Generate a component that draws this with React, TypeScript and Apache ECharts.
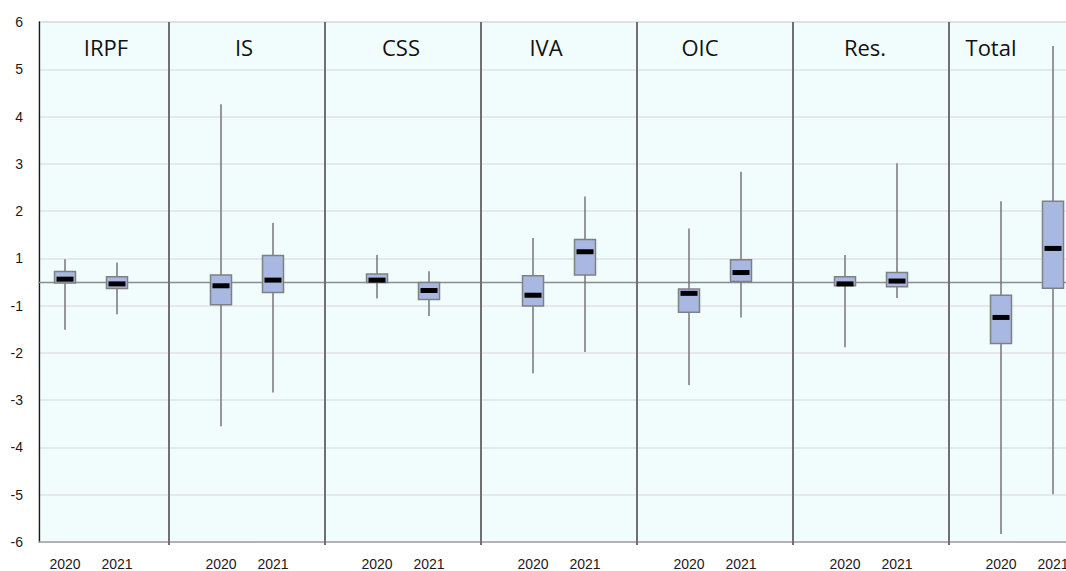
import React, { useEffect, useRef } from "react";
import * as echarts from "echarts";

// Panels and years
const panels = ["IRPF", "IS", "CSS", "IVA", "OIC", "Res.", "Total"];
const years = ["2020", "2021"];

// Y tick labels (as printed on the chart; the centre line carries no label)
const yTickLabels = ["-6", "-5", "-4", "-3", "-2", "-1", "1", "2", "3", "4", "5", "6"];

// 2020 box statistics (in gridline units, centre line = 0)
const max2020 = [0.48, 3.76, 0.57, 0.93, 1.13, 0.57, 1.71];
const q3_2020 = [0.22, 0.15, 0.17, 0.13, -0.15, 0.11, -0.28];
const med2020 = [0.06, -0.08, 0.04, -0.28, -0.24, -0.04, -0.75];
const q1_2020 = [-0.02, -0.48, -0.01, -0.51, -0.64, -0.08, -1.3];
const min2020 = [-1.01, -3.05, -0.35, -1.93, -2.18, -1.38, -5.33];

// 2021 box statistics
const max2021 = [0.41, 1.25, 0.23, 1.81, 2.33, 2.51, 4.99];
const q3_2021 = [0.11, 0.56, -0.01, 0.9, 0.47, 0.2, 1.71];
const med2021 = [-0.04, 0.04, -0.18, 0.64, 0.2, 0.02, 0.71];
const q1_2021 = [-0.14, -0.22, -0.37, 0.15, 0.01, -0.1, -0.13];
const min2021 = [-0.68, -2.34, -0.72, -1.48, -0.75, -0.34, -4.49];

// layout of panel titles (pixels)
const titleX = [106, 244, 401, 546, 700, 865, 991];

export default function App() {
  const ref = useRef<HTMLDivElement>(null);
  useEffect(() => {
    if (!ref.current) return;
    const chart = echarts.init(ref.current, null, { renderer: "svg" });

    const categories: string[] = [];
    panels.forEach((p) => {
      years.forEach((y) => categories.push(`${p}|${y}`));
      categories.push(`${p}|`);
    });

    const stats = [
      [min2020, q1_2020, med2020, q3_2020, max2020],
      [min2021, q1_2021, med2021, q3_2021, max2021],
    ];
    const boxData: any[] = [];
    panels.forEach((p, i) => {
      years.forEach((y, j) => {
        const s = stats[j];
        boxData.push([`${p}|${y}`, s[0][i], s[1][i], s[2][i], s[3][i], s[4][i]]);
      });
    });

    const labelFont = "Liberation Sans";

    chart.setOption({
      animation: false,
      backgroundColor: "#ffffff",
      grid: {
        left: 39,
        right: 9,
        top: 22,
        bottom: 29,
        show: true,
        backgroundColor: "#F1FDFD",
        borderColor: "#d4d4d4",
        borderWidth: 1.5,
      },
      xAxis: [
        {
          type: "category",
          data: categories,
          boundaryGap: true,
          axisLine: { onZero: false, lineStyle: { color: "#a3a3a3", width: 1.5 } },
          axisTick: {
            show: true,
            alignWithLabel: true,
            interval: (i: number) => i % 3 === 2,
            length: 3,
            lineStyle: { color: "#707070", width: 2 },
          },
          axisLabel: {
            interval: 0,
            formatter: (v: string) => v.split("|")[1] || "",
            fontFamily: labelFont,
            fontSize: 14,
            color: "#1a1a1a",
            margin: 15,
          },
          splitLine: { show: false },
        },
        {
          type: "category",
          data: categories,
          axisLine: { show: true, onZero: true, lineStyle: { color: "#8c8c8c", width: 1.3 } },
          axisTick: { show: false },
          axisLabel: { show: false },
          splitLine: { show: false },
        },
      ],
      yAxis: {
        type: "value",
        min: -5.5,
        max: 5.5,
        interval: 1,
        axisLine: { show: true, lineStyle: { color: "#1a1a1a", width: 1.3 } },
        axisTick: { show: false },
        axisLabel: {
          formatter: (v: number) => yTickLabels[Math.round(v + 5.5)] ?? "",
          fontFamily: labelFont,
          fontSize: 14,
          color: "#1a1a1a",
          margin: 16,
        },
        splitLine: { lineStyle: { color: "#e2e2e2", width: 1.5 } },
      },
      series: [
        {
          type: "custom",
          xAxisIndex: 0,
          yAxisIndex: 0,
          data: boxData,
          encode: { x: 0, y: [1, 2, 3, 4, 5] },
          renderItem: (params: any, api: any) => {
            const xi = api.value(0);
            const pLo = api.coord([xi, api.value(1)]);
            const pQ1 = api.coord([xi, api.value(2)]);
            const pMed = api.coord([xi, api.value(3)]);
            const pQ3 = api.coord([xi, api.value(4)]);
            const pHi = api.coord([xi, api.value(5)]);
            const px = pMed[0];
            const bw = 21;
            const mw = 17;
            const mh = 5;
            return {
              type: "group",
              children: [
                {
                  type: "line",
                  shape: { x1: px, y1: pHi[1], x2: px, y2: pLo[1] },
                  style: { stroke: "#767676", lineWidth: 1.5 },
                },
                {
                  type: "rect",
                  shape: { x: px - bw / 2, y: pQ3[1], width: bw, height: pQ1[1] - pQ3[1] },
                  style: { fill: "#A8B8E3", stroke: "#808080", lineWidth: 1.5 },
                },
                {
                  type: "rect",
                  shape: { x: px - mw / 2, y: pMed[1] - mh / 2, width: mw, height: mh },
                  style: { fill: "#000000" },
                },
              ],
            };
          },
          markLine: {
            silent: true,
            symbol: ["none", "none"],
            label: { show: false },
            lineStyle: { color: "#707070", width: 2, type: "solid" },
            data: panels.map((p) => ({ xAxis: `${p}|` })),
          },
        },
      ],
      graphic: panels.map((p, i) => ({
        type: "text",
        x: titleX[i],
        y: 47,
        z: 10,
        style: {
          text: p,
          fontFamily: "Open Sans",
          fontSize: 22,
          fill: "#111111",
          align: "center",
          verticalAlign: "middle",
        },
      })),
    });

    return () => chart.dispose();
  }, []);

  return (
    <div
      ref={ref}
      style={{ position: "fixed", left: 0, top: 0, width: 1140, height: 571 }}
    />
  );
}
